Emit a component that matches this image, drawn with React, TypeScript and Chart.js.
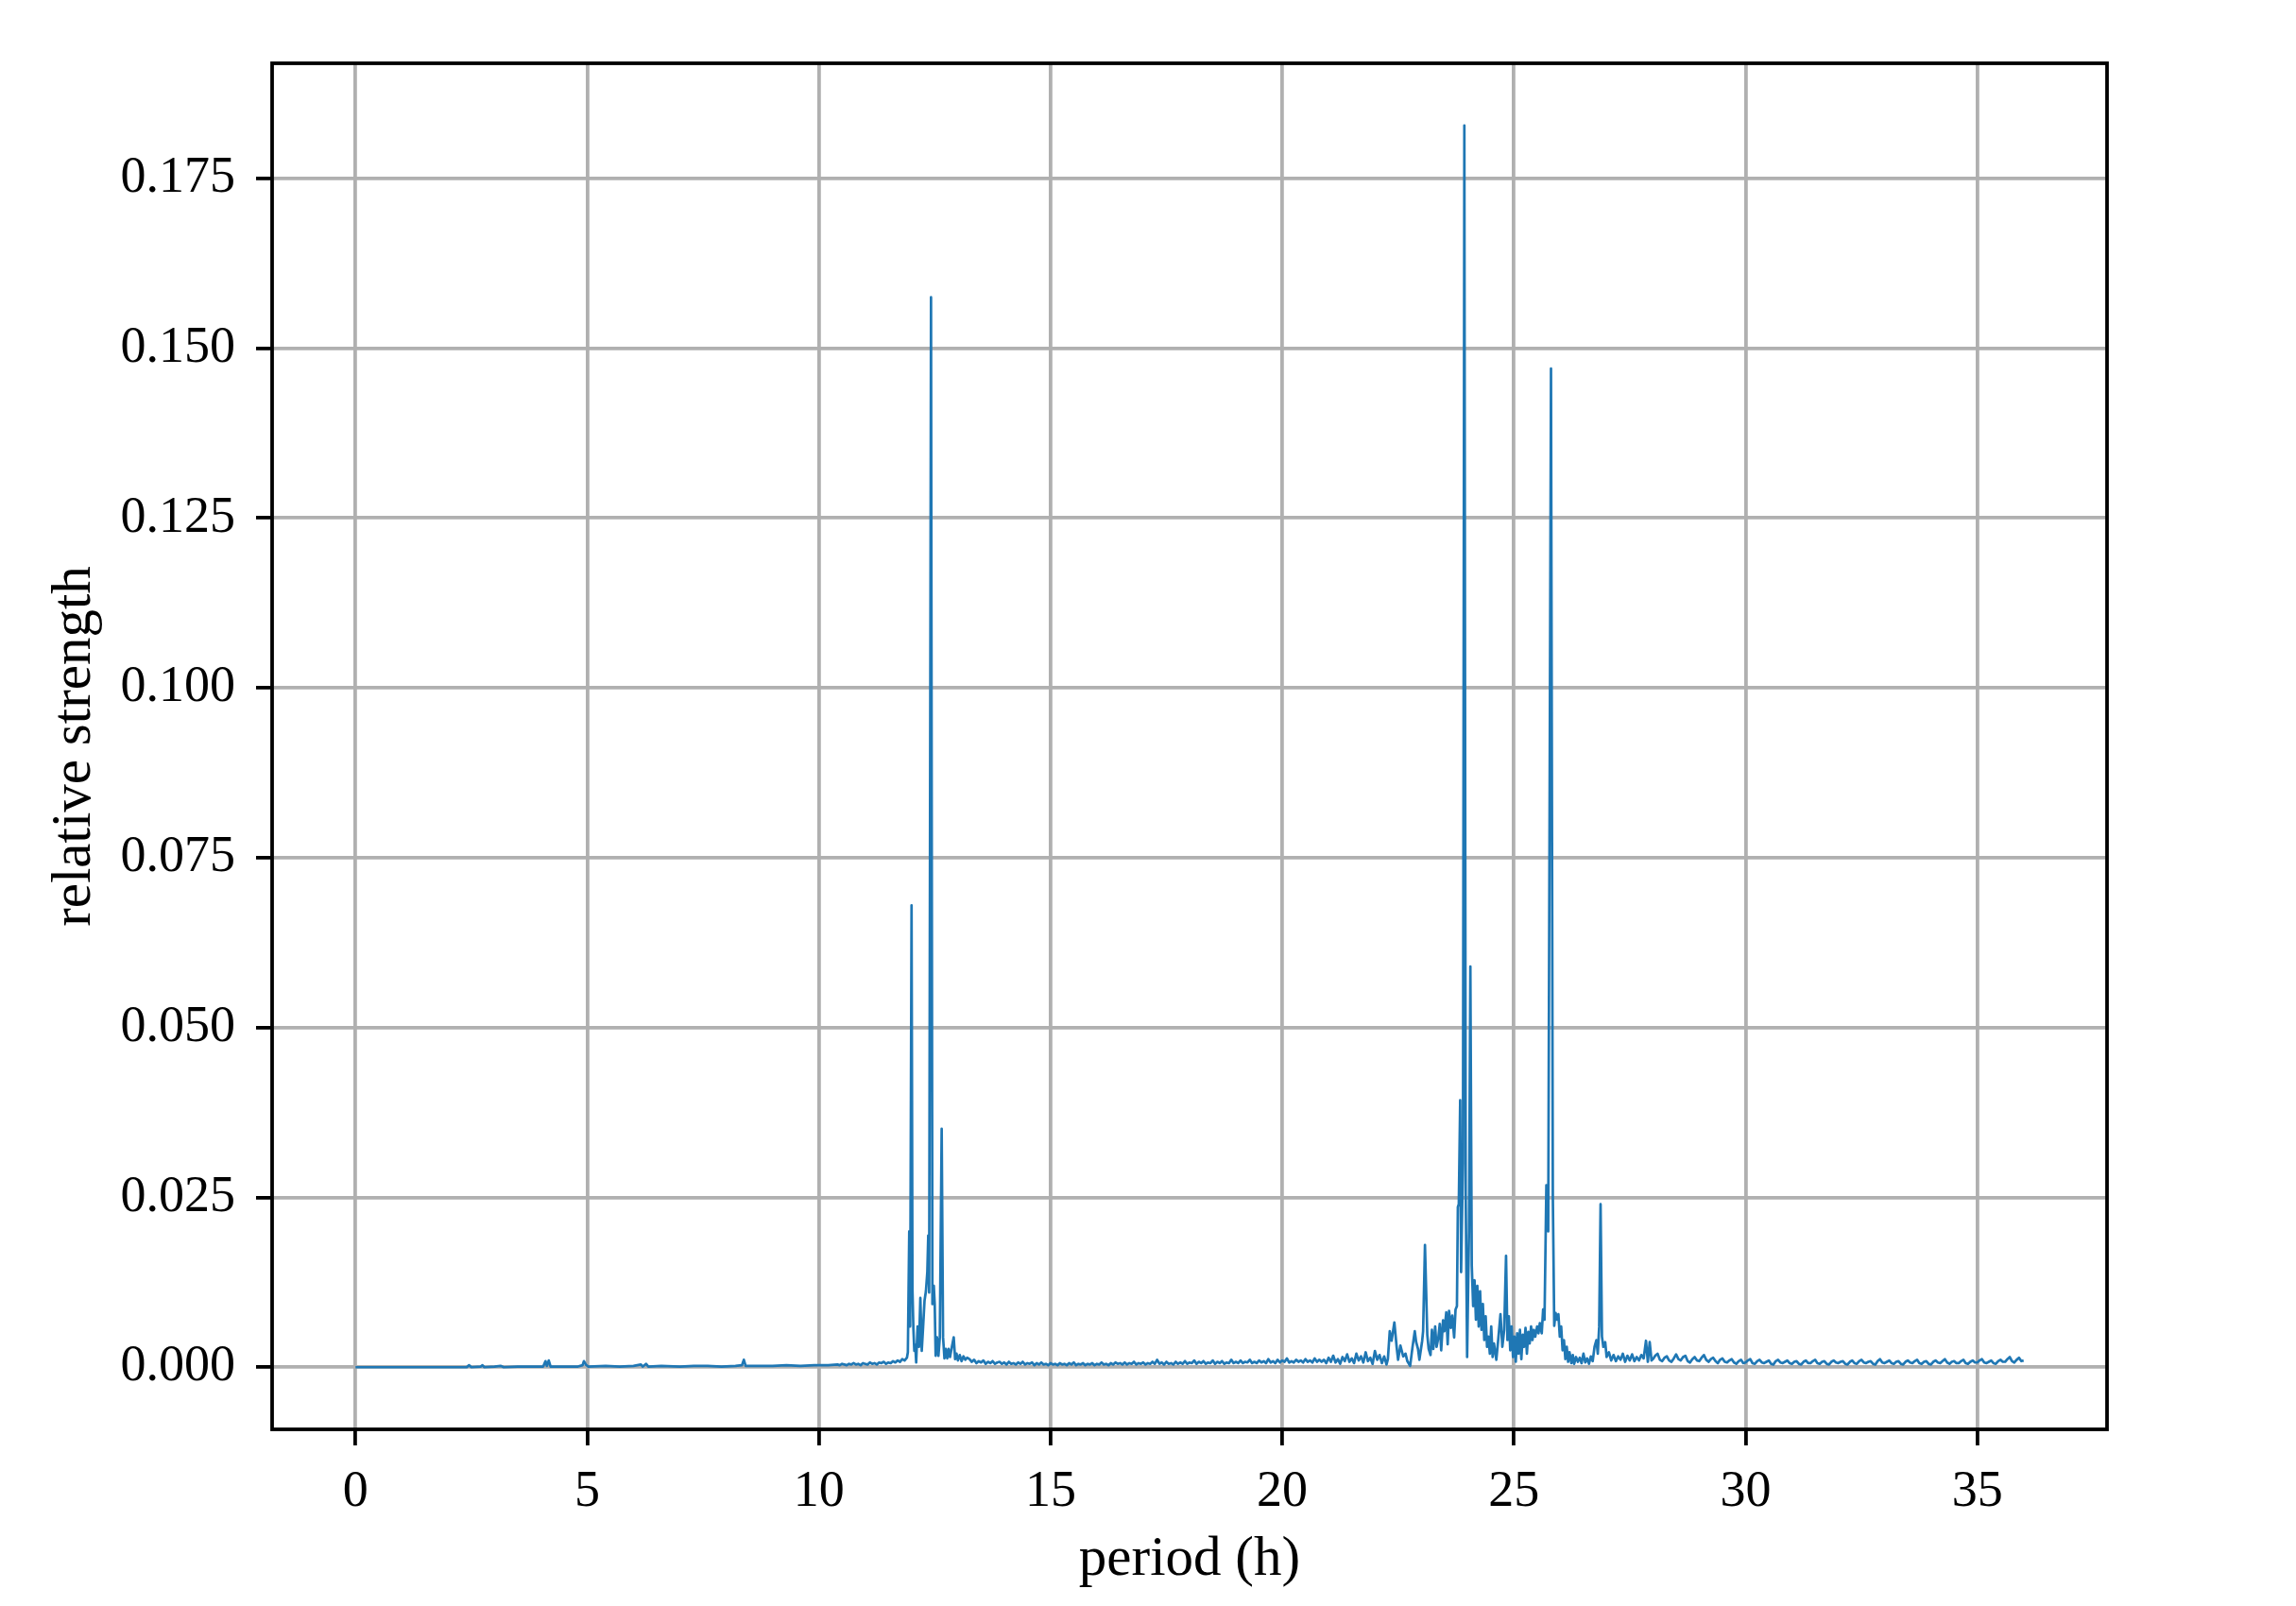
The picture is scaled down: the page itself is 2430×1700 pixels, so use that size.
import React, { useEffect, useRef } from "react";
import { Chart, registerables } from "chart.js";

Chart.register(...registerables);

// period (h), relative strength
const baseline0to10: [number, number][] = [
  [0, 0.0], [0.5, 0.0], [1.0, 0.0], [1.5, 0.0], [2.0, 0.0], [2.4, 0.0], [2.45, 0.0003], [2.5, 0.0],
  [2.7, 0.0001], [2.74, 0.0003], [2.78, 0.0], [3.0, 0.0001], [3.13, 0.0002], [3.2, 0.0], [3.5, 0.0001],
  [3.8, 0.0001], [4.05, 0.0001], [4.1, 0.0009], [4.13, 0.0002], [4.17, 0.001], [4.21, 0.0001],
  [4.5, 0.0001], [4.8, 0.0001], [4.9, 0.0003], [4.93, 0.0009], [4.97, 0.0004], [5.02, 0.0001],
  [5.4, 0.0002], [5.7, 0.0001], [6.0, 0.0002], [6.16, 0.0004], [6.2, 0.0001], [6.27, 0.0005],
  [6.32, 0.0001], [6.6, 0.0002], [7.0, 0.0001], [7.3, 0.0002], [7.6, 0.0002], [7.9, 0.0001],
  [8.2, 0.0002], [8.34, 0.0003], [8.38, 0.0011], [8.42, 0.0002], [8.7, 0.0002], [9.0, 0.0002],
  [9.3, 0.0003], [9.6, 0.0002], [9.9, 0.0003], [10.2, 0.0003],
];

const ramp10to12: [number, number][] = [
  [10.4, 0.0004], [10.45, 0.0003], [10.5, 0.0005], [10.55, 0.0004], [10.6, 0.0003], [10.65, 0.0005],
  [10.7, 0.0004], [10.75, 0.0006], [10.8, 0.0004], [10.85, 0.0005], [10.9, 0.0003], [10.95, 0.0006],
  [11.0, 0.0005], [11.05, 0.0004], [11.1, 0.0007], [11.15, 0.0005], [11.2, 0.0006], [11.25, 0.0004],
  [11.3, 0.0007], [11.35, 0.0006], [11.4, 0.0008], [11.45, 0.0005], [11.5, 0.0007], [11.55, 0.0006],
  [11.6, 0.0009], [11.65, 0.0007], [11.7, 0.001], [11.75, 0.0008], [11.8, 0.0012], [11.85, 0.001],
  [11.9, 0.0014],
];

const cluster12h: [number, number][] = [
  [11.92, 0.0022], [11.95, 0.02], [11.97, 0.006], [12.0, 0.068], [12.02, 0.0113], [12.04, 0.0056],
  [12.06, 0.0024], [12.08, 0.0033], [12.1, 0.0007], [12.13, 0.006], [12.16, 0.003], [12.19, 0.0102],
  [12.22, 0.0024], [12.25, 0.006], [12.28, 0.0098], [12.31, 0.0112], [12.34, 0.014], [12.36, 0.0194],
  [12.38, 0.011], [12.42, 0.1575], [12.45, 0.0093], [12.48, 0.012], [12.5, 0.0093], [12.52, 0.0017],
  [12.55, 0.0044], [12.58, 0.0017], [12.61, 0.0044], [12.65, 0.0351], [12.68, 0.0044], [12.71, 0.0013],
  [12.74, 0.0027], [12.77, 0.0013], [12.8, 0.0027], [12.83, 0.0015], [12.87, 0.003], [12.91, 0.0044],
  [12.94, 0.0012], [12.97, 0.002], [13.0, 0.001], [13.04, 0.0018], [13.08, 0.0009], [13.12, 0.0016],
  [13.16, 0.0011], [13.2, 0.0014],
];

const noise13to21: [number, number][] = [
  [13.25, 0.0012], [13.3, 0.0008], [13.35, 0.0011], [13.4, 0.0006], [13.45, 0.0009], [13.5, 0.0007],
  [13.55, 0.001], [13.6, 0.0005], [13.65, 0.0008], [13.7, 0.0006], [13.75, 0.0009], [13.8, 0.0005],
  [13.85, 0.0007], [13.9, 0.0008], [13.95, 0.0005], [14.0, 0.0007], [14.05, 0.0004], [14.1, 0.0008],
  [14.15, 0.0005], [14.2, 0.0006], [14.25, 0.0004], [14.3, 0.0007], [14.35, 0.0005], [14.4, 0.0008],
  [14.45, 0.0004], [14.5, 0.0006], [14.55, 0.0005], [14.6, 0.0007], [14.65, 0.0003], [14.7, 0.0006],
  [14.75, 0.0004], [14.8, 0.0007], [14.85, 0.0004], [14.9, 0.0005], [14.95, 0.0003], [15.0, 0.0006],
  [15.05, 0.0004], [15.1, 0.0005], [15.15, 0.0003], [15.2, 0.0006], [15.25, 0.0004], [15.3, 0.0005],
  [15.35, 0.0003], [15.4, 0.0006], [15.45, 0.0004], [15.5, 0.0007], [15.55, 0.0003], [15.6, 0.0005],
  [15.65, 0.0004], [15.7, 0.0006], [15.75, 0.0003], [15.8, 0.0005], [15.85, 0.0004], [15.9, 0.0006],
  [15.95, 0.0003], [16.0, 0.0005], [16.05, 0.0004], [16.1, 0.0007], [16.15, 0.0004], [16.2, 0.0005],
  [16.25, 0.0003], [16.3, 0.0006], [16.35, 0.0004], [16.4, 0.0007], [16.45, 0.0005], [16.5, 0.0006],
  [16.55, 0.0004], [16.6, 0.0007], [16.65, 0.0004], [16.7, 0.0006], [16.75, 0.0005], [16.8, 0.0008],
  [16.85, 0.0004], [16.9, 0.0006], [16.95, 0.0005], [17.0, 0.0007], [17.05, 0.0004], [17.1, 0.0006],
  [17.15, 0.0005], [17.2, 0.0008], [17.25, 0.0005], [17.3, 0.0011], [17.35, 0.0005], [17.4, 0.0007],
  [17.45, 0.0004], [17.5, 0.0008], [17.55, 0.0005], [17.6, 0.0006], [17.65, 0.0004], [17.7, 0.0008],
  [17.75, 0.0005], [17.8, 0.0007], [17.85, 0.0005], [17.9, 0.0009], [17.95, 0.0005], [18.0, 0.0007],
  [18.05, 0.0006], [18.1, 0.001], [18.15, 0.0005], [18.2, 0.0008], [18.25, 0.0006], [18.3, 0.0009],
  [18.35, 0.0005], [18.4, 0.0007], [18.45, 0.0006], [18.5, 0.001], [18.55, 0.0005], [18.6, 0.0008],
  [18.65, 0.0006], [18.7, 0.0009], [18.75, 0.0005], [18.8, 0.0007], [18.85, 0.0006], [18.9, 0.0011],
  [18.95, 0.0006], [19.0, 0.0008], [19.05, 0.0006], [19.1, 0.001], [19.15, 0.0006], [19.2, 0.0008],
  [19.25, 0.0007], [19.3, 0.0011], [19.35, 0.0006], [19.4, 0.0008], [19.45, 0.0006], [19.5, 0.001],
  [19.55, 0.0007], [19.6, 0.0009], [19.65, 0.0006], [19.7, 0.0012], [19.75, 0.0007], [19.8, 0.0009],
  [19.85, 0.0006], [19.9, 0.0011], [19.95, 0.0007], [20.0, 0.001], [20.05, 0.0008], [20.1, 0.0013],
  [20.15, 0.0007], [20.2, 0.0009], [20.25, 0.0007], [20.3, 0.0011], [20.35, 0.0008], [20.4, 0.001],
  [20.45, 0.0007], [20.5, 0.0012], [20.55, 0.0008], [20.6, 0.001], [20.65, 0.0007], [20.7, 0.0013],
  [20.75, 0.0008], [20.8, 0.0011], [20.85, 0.0008],
];

const rise21to22: [number, number][] = [
  [20.9, 0.0011], [20.95, 0.0006], [21.0, 0.0014], [21.05, 0.0008], [21.1, 0.0017], [21.15, 0.0007],
  [21.2, 0.0012], [21.25, 0.0005], [21.3, 0.0015], [21.35, 0.0009], [21.4, 0.0019], [21.45, 0.0008],
  [21.5, 0.0013], [21.55, 0.0006], [21.6, 0.002], [21.65, 0.001], [21.7, 0.0016], [21.75, 0.0007],
  [21.8, 0.0022], [21.85, 0.0009], [21.9, 0.0014], [21.95, 0.0005], [22.0, 0.0024], [22.05, 0.0011],
  [22.1, 0.0018], [22.15, 0.0006], [22.2, 0.0016], [22.25, 0.0004], [22.28, 0.0012],
];

const cluster24h: [number, number][] = [
  [22.32, 0.0053], [22.36, 0.0039], [22.42, 0.0066], [22.47, 0.0029], [22.5, 0.0011], [22.55, 0.0032],
  [22.61, 0.0016], [22.66, 0.002], [22.7, 0.0009], [22.76, 0.0002], [22.81, 0.0029], [22.86, 0.0053],
  [22.89, 0.0037], [22.93, 0.0027], [22.96, 0.0011], [23.02, 0.0039], [23.04, 0.0053], [23.08, 0.018],
  [23.13, 0.0048], [23.16, 0.0027], [23.2, 0.0018], [23.23, 0.0055], [23.26, 0.0027], [23.3, 0.006],
  [23.33, 0.003], [23.37, 0.0044], [23.4, 0.0064], [23.43, 0.0025], [23.47, 0.0069], [23.5, 0.0053],
  [23.54, 0.0081], [23.57, 0.0034], [23.6, 0.0083], [23.64, 0.0058], [23.67, 0.0076], [23.71, 0.0044],
  [23.74, 0.0085], [23.77, 0.009], [23.79, 0.0236], [23.81, 0.024], [23.84, 0.0393], [23.86, 0.014],
  [23.9, 0.03], [23.93, 0.1828], [23.96, 0.025], [23.99, 0.0015], [24.03, 0.02], [24.06, 0.059],
  [24.09, 0.015], [24.12, 0.009], [24.15, 0.0128], [24.18, 0.007], [24.21, 0.012], [24.24, 0.006],
  [24.27, 0.0112], [24.3, 0.0055], [24.33, 0.0093], [24.36, 0.004], [24.39, 0.0075], [24.42, 0.003],
  [24.45, 0.0045], [24.48, 0.002], [24.51, 0.006], [24.54, 0.0015], [24.57, 0.0035], [24.62, 0.0011],
  [24.66, 0.004], [24.71, 0.0078], [24.75, 0.003], [24.79, 0.0055], [24.83, 0.0164], [24.86, 0.004],
  [24.89, 0.0075], [24.92, 0.0025], [24.95, 0.006], [24.98, 0.0015], [25.01, 0.0045], [25.04, 0.0008],
  [25.07, 0.005], [25.1, 0.002], [25.13, 0.0055], [25.16, 0.0012], [25.19, 0.0048], [25.22, 0.003],
  [25.25, 0.0058], [25.28, 0.002], [25.31, 0.0052], [25.34, 0.0035], [25.37, 0.006], [25.4, 0.004],
  [25.43, 0.0055], [25.46, 0.0045], [25.5, 0.006], [25.53, 0.005], [25.56, 0.0065], [25.6, 0.005],
  [25.63, 0.0085], [25.66, 0.007], [25.7, 0.0268], [25.74, 0.02], [25.8, 0.147], [25.84, 0.025],
  [25.87, 0.0061], [25.9, 0.008], [25.93, 0.007], [25.96, 0.0078], [25.99, 0.0045],
];

const tail26to28: [number, number][] = [
  [26.02, 0.006], [26.05, 0.0025], [26.08, 0.004], [26.11, 0.0012], [26.14, 0.003], [26.17, 0.0008],
  [26.2, 0.0022], [26.24, 0.0006], [26.27, 0.0018], [26.3, 0.0005], [26.34, 0.0015], [26.38, 0.0008],
  [26.42, 0.0014], [26.46, 0.0006], [26.5, 0.002], [26.54, 0.0007], [26.58, 0.0013], [26.62, 0.0005],
  [26.66, 0.0016], [26.7, 0.0009], [26.74, 0.003], [26.78, 0.004], [26.81, 0.002], [26.84, 0.006],
  [26.87, 0.024], [26.9, 0.0045], [26.93, 0.003], [26.97, 0.0037], [27.0, 0.0015], [27.05, 0.0022],
  [27.1, 0.001], [27.15, 0.0018], [27.2, 0.0009], [27.25, 0.0016], [27.3, 0.0011], [27.35, 0.002],
  [27.4, 0.0008], [27.45, 0.0017], [27.5, 0.001], [27.55, 0.0019], [27.6, 0.0009], [27.65, 0.0015],
  [27.7, 0.001], [27.75, 0.0018], [27.8, 0.0013], [27.85, 0.0039], [27.89, 0.0008], [27.93, 0.0037],
  [27.97, 0.001],
];

const tail28to36: [number, number][] = [
  [28.0, 0.0012], [28.05, 0.0017], [28.1, 0.002], [28.15, 0.0011], [28.2, 0.0009], [28.25, 0.0014],
  [28.3, 0.0016], [28.35, 0.001], [28.4, 0.0008], [28.45, 0.0013], [28.5, 0.0019], [28.55, 0.0012],
  [28.6, 0.001], [28.65, 0.0015], [28.7, 0.0017], [28.75, 0.0009], [28.8, 0.0007], [28.85, 0.0012],
  [28.9, 0.0015], [28.95, 0.001], [29.0, 0.0009], [29.05, 0.0014], [29.1, 0.0018], [29.15, 0.0011],
  [29.2, 0.0008], [29.25, 0.0012], [29.3, 0.0014], [29.35, 0.0009], [29.4, 0.0006], [29.45, 0.0011],
  [29.5, 0.0013], [29.55, 0.0008], [29.6, 0.0007], [29.65, 0.001], [29.7, 0.0012], [29.75, 0.0007],
  [29.8, 0.0005], [29.85, 0.0009], [29.9, 0.0011], [29.95, 0.0006], [30.0, 0.0007], [30.05, 0.001],
  [30.1, 0.0012], [30.15, 0.0006], [30.2, 0.0005], [30.25, 0.0009], [30.3, 0.0011], [30.35, 0.0007],
  [30.4, 0.0006], [30.45, 0.0008], [30.5, 0.001], [30.55, 0.0005], [30.6, 0.0004], [30.65, 0.0009],
  [30.7, 0.0011], [30.75, 0.0007], [30.8, 0.0006], [30.85, 0.0008], [30.9, 0.001], [30.95, 0.0006],
  [31.0, 0.0005], [31.05, 0.0008], [31.1, 0.0009], [31.15, 0.0005], [31.2, 0.0004], [31.25, 0.0008],
  [31.3, 0.001], [31.35, 0.0006], [31.4, 0.0006], [31.45, 0.0009], [31.5, 0.0011], [31.55, 0.0006],
  [31.6, 0.0005], [31.65, 0.0008], [31.7, 0.0009], [31.75, 0.0005], [31.8, 0.0004], [31.85, 0.0008],
  [31.9, 0.001], [31.95, 0.0007], [32.0, 0.0006], [32.05, 0.0008], [32.1, 0.0009], [32.15, 0.0005],
  [32.2, 0.0004], [32.25, 0.0008], [32.3, 0.001], [32.35, 0.0006], [32.4, 0.0005], [32.45, 0.0009],
  [32.5, 0.0011], [32.55, 0.0007], [32.6, 0.0006], [32.65, 0.0008], [32.7, 0.0009], [32.75, 0.0005],
  [32.8, 0.0004], [32.85, 0.0009], [32.9, 0.0012], [32.95, 0.0007], [33.0, 0.0006], [33.05, 0.0008],
  [33.1, 0.001], [33.15, 0.0006], [33.2, 0.0005], [33.25, 0.0008], [33.3, 0.0009], [33.35, 0.0005],
  [33.4, 0.0004], [33.45, 0.0008], [33.5, 0.001], [33.55, 0.0007], [33.6, 0.0006], [33.65, 0.0009],
  [33.7, 0.0011], [33.75, 0.0006], [33.8, 0.0005], [33.85, 0.0008], [33.9, 0.0009], [33.95, 0.0005],
  [34.0, 0.0004], [34.05, 0.0008], [34.1, 0.001], [34.15, 0.0007], [34.2, 0.0006], [34.25, 0.0009],
  [34.3, 0.0012], [34.35, 0.0007], [34.4, 0.0005], [34.45, 0.0008], [34.5, 0.0009], [34.55, 0.0006],
  [34.6, 0.0006], [34.65, 0.0009], [34.7, 0.0011], [34.75, 0.0006], [34.8, 0.0005], [34.85, 0.0008],
  [34.9, 0.001], [34.95, 0.0007], [35.0, 0.0007], [35.05, 0.001], [35.1, 0.0012], [35.15, 0.0007],
  [35.2, 0.0006], [35.25, 0.0008], [35.3, 0.001], [35.35, 0.0006], [35.4, 0.0005], [35.45, 0.0009],
  [35.5, 0.0011], [35.55, 0.0008], [35.6, 0.0008], [35.65, 0.0012], [35.7, 0.0015], [35.75, 0.0009],
  [35.8, 0.0007], [35.85, 0.0011], [35.9, 0.0014], [35.95, 0.0009], [36.0, 0.001],
];

const xTicks = [0, 5, 10, 15, 20, 25, 30, 35];
const yTicks = [0, 0.025, 0.05, 0.075, 0.1, 0.125, 0.15, 0.175];

const W = 2430;
const H = 1700;
const AREA = { left: 288, right: 2230, top: 67, bottom: 1513 };
const FONT = "'Liberation Serif', 'Times New Roman', serif";
const LW = 3.8;

const frame = {
  id: "frame",
  afterDraw(chart: any) {
    const { ctx, chartArea } = chart;
    ctx.save();
    ctx.strokeStyle = "#000";
    ctx.lineWidth = LW;
    ctx.strokeRect(chartArea.left, chartArea.top, chartArea.right - chartArea.left, chartArea.bottom - chartArea.top);
    ctx.restore();
  },
};

export default function App() {
  const ref = useRef<HTMLCanvasElement | null>(null);

  useEffect(() => {
    if (!ref.current) return;
    const points = [
      ...baseline0to10,
      ...ramp10to12,
      ...cluster12h,
      ...noise13to21,
      ...rise21to22,
      ...cluster24h,
      ...tail26to28,
      ...tail28to36,
    ].map(([x, y]) => ({ x, y }));

    const chart = new Chart(ref.current, {
      type: "line",
      data: {
        datasets: [
          {
            data: points,
            borderColor: "#1f77b4",
            borderWidth: 2.7,
            pointRadius: 0,
            tension: 0,
            fill: false,
            borderJoinStyle: "round",
          },
        ],
      },
      options: {
        animation: false,
        responsive: false,
        devicePixelRatio: 1,
        layout: { padding: { left: 0, top: AREA.top, right: W - AREA.right, bottom: 0 } },
        plugins: { legend: { display: false }, tooltip: { enabled: false } },
        scales: {
          x: {
            type: "linear",
            min: -1.8,
            max: 37.8,
            afterBuildTicks: (s: any) => {
              s.ticks = xTicks.map((v) => ({ value: v }));
            },
            afterFit: (s: any) => {
              s.height = H - AREA.bottom;
            },
            grid: {
              color: "#b0b0b0",
              lineWidth: LW,
              drawTicks: true,
              tickLength: 17,
              tickColor: "#000",
              tickWidth: LW,
            },
            border: { display: false },
            ticks: {
              autoSkip: false,
              maxRotation: 0,
              padding: 17,
              color: "#000",
              font: { family: FONT, size: 54 },
              callback: (v: any) => String(v),
            },
            title: {
              display: true,
              text: "period (h)",
              color: "#000",
              font: { family: FONT, size: 59, lineHeight: 1 },
              padding: { top: 0, bottom: 19 },
            },
          },
          y: {
            type: "linear",
            min: -0.00914,
            max: 0.19194,
            afterBuildTicks: (s: any) => {
              s.ticks = yTicks.map((v) => ({ value: v }));
            },
            afterFit: (s: any) => {
              s.width = AREA.left;
            },
            grid: {
              color: "#b0b0b0",
              lineWidth: LW,
              drawTicks: true,
              tickLength: 17,
              tickColor: "#000",
              tickWidth: LW,
            },
            border: { display: false },
            ticks: {
              autoSkip: false,
              padding: 22,
              color: "#000",
              font: { family: FONT, size: 54 },
              callback: (v: any) => Number(v).toFixed(3),
            },
            title: {
              display: true,
              text: "relative strength",
              color: "#000",
              font: { family: FONT, size: 59, lineHeight: 1 },
              padding: { top: 50, bottom: 0 },
            },
          },
        },
      },
      plugins: [frame],
    });
    return () => chart.destroy();
  }, []);

  return (
    <div style={{ position: "absolute", left: 0, top: 0, width: W, height: H, background: "#fff" }}>
      <canvas ref={ref} width={W} height={H} style={{ display: "block", width: W, height: H }} />
    </div>
  );
}
